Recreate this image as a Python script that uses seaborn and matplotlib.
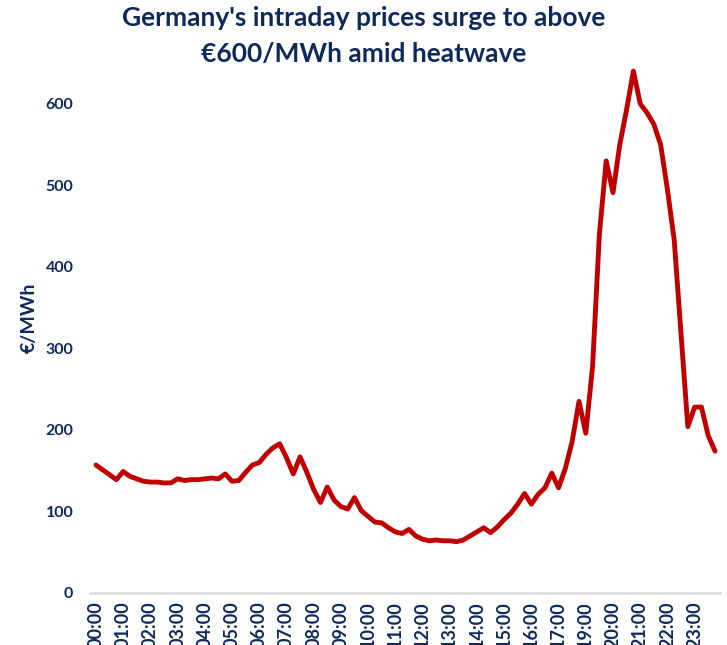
import numpy as np
import pandas as pd
import matplotlib
matplotlib.use("Agg")
import matplotlib.pyplot as plt
import seaborn as sns

# hourly tick labels (18:00 block missing in source data)
hour_labels = ["00:00", "01:00", "02:00", "03:00", "04:00", "05:00", "06:00",
               "07:00", "08:00", "09:00", "10:00", "11:00", "12:00", "13:00",
               "14:00", "15:00", "16:00", "17:00", "19:00", "20:00", "21:00",
               "22:00", "23:00"]

# 15-minute intraday prices, EUR/MWh
prices = [157, 151, 145, 139, 149, 143, 140, 137,
          136, 136, 135, 135, 140, 138, 139, 139,
          140, 141, 140, 146, 137, 138, 148, 157,
          160, 170, 178, 183, 166, 146, 167, 148,
          127, 111, 130, 114, 106, 103, 117, 101,
          94, 87, 86, 80, 75, 73, 78, 70,
          66, 64, 65, 64, 64, 63, 65, 70,
          75, 80, 74, 81, 90, 98, 109, 122,
          109, 121, 129, 147, 129, 153, 186, 235,
          196, 278, 440, 530, 491, 550, 593, 640,
          600, 589, 575, 550, 495, 433, 318, 204,
          228, 228, 193, 174]

navy = "#0D2A5C"
red = "#C00000"

sns.set_theme(style="white")
plt.rcParams["font.family"] = ["Lato", "DejaVu Sans"]

df = pd.DataFrame({"slot": np.arange(len(prices)), "price": prices})

fig = plt.figure(figsize=(7.27, 6.45), dpi=100)
ax = fig.add_axes([90 / 727, 52 / 645, 630 / 727, 530 / 645])

sns.lineplot(data=df, x="slot", y="price", color=red, linewidth=3.5, ax=ax)

ax.set_xlim(-0.88, 91.73)
ax.set_ylim(0, 650)
ax.set_yticks(range(0, 700, 100))
ax.set_xticks(range(0, len(prices), 4))
ax.set_xticklabels(hour_labels, rotation=90)

for side in ["top", "right", "left"]:
    ax.spines[side].set_visible(False)
ax.spines["bottom"].set_color("#D9D9D9")
ax.spines["bottom"].set_linewidth(1.8)

ax.tick_params(axis="y", length=0, labelsize=11.5, labelcolor=navy, pad=12)
ax.tick_params(axis="x", length=0, labelsize=13, labelcolor=navy, pad=6)
for lbl in ax.get_xticklabels() + ax.get_yticklabels():
    lbl.set_fontweight("bold")

ax.set_xlabel("")
ax.set_ylabel("€/MWh", fontsize=14, fontweight="bold", color=navy)
ax.yaxis.set_label_coords(-52 / 630, 0.52)

fig.text(0.5, 1 - 36 / 645, "Germany's intraday prices surge to above\n€600/MWh amid heatwave",
         ha="center", va="center", fontsize=19, fontweight="bold", color=navy,
         linespacing=1.6)

fig.savefig("out.png", dpi=100)
